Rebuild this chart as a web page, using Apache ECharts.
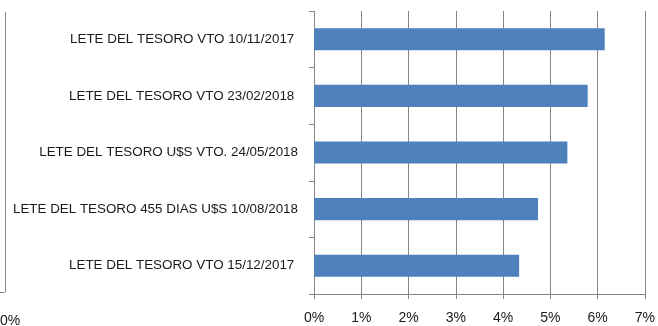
<!DOCTYPE html>
<html>
<head>
<meta charset="utf-8">
<script src="https://cdn.jsdelivr.net/npm/echarts@6/dist/echarts.min.js"></script>
<style>
  html, body { margin: 0; padding: 0; background: #fff; }
  #chart { width: 658px; height: 326px; }
</style>
</head>
<body>
<div id="chart"></div>
<script>
// Instrument names, top to bottom
const categories = [
  'LETE DEL TESORO VTO 10/11/2017 ',
  'LETE DEL TESORO VTO 23/02/2018 ',
  'LETE DEL TESORO U$S VTO. 24/05/2018',
  'LETE DEL TESORO 455 DIAS U$S 10/08/2018',
  'LETE DEL TESORO VTO 15/12/2017 '
];
// Yield, percent
const yields = [6.15, 5.79, 5.36, 4.74, 4.34];
// Percent axis range
const axisMin = 0;
const axisMax = 7;
const axisStep = 1;

const FONT = 'Liberation Sans';
const TEXT = '#1a1a1a';
const GRID = '#868686';

const chart = echarts.init(document.getElementById('chart'));
chart.setOption({
  animation: false,
  backgroundColor: '#ffffff',
  grid: { left: 314, right: 13, top: 11, bottom: 32, containLabel: false },
  xAxis: {
    type: 'value',
    min: axisMin,
    max: axisMax,
    interval: axisStep,
    axisLine: { show: true, lineStyle: { color: GRID, width: 1 } },
    axisTick: { show: true, length: 5, lineStyle: { color: GRID } },
    splitLine: { show: true, lineStyle: { color: GRID, width: 1 } },
    axisLabel: {
      formatter: '{value}%',
      color: TEXT, fontFamily: FONT, fontSize: 14, margin: 17
    }
  },
  yAxis: {
    type: 'category',
    data: categories,
    inverse: true,
    axisLine: { show: true, lineStyle: { color: GRID, width: 1 } },
    axisTick: { show: true, length: 5, lineStyle: { color: GRID } },
    axisLabel: { color: TEXT, fontFamily: FONT, fontSize: 13.4, margin: 16 }
  },
  series: [{
    type: 'bar',
    data: yields,
    barCategoryGap: '61%',
    itemStyle: { color: '#4F81BD' }
  }],
  // edge of a neighbouring chart on the left
  graphic: [
    { type: 'line', shape: { x1: 5.5, y1: 12, x2: 5.5, y2: 292 }, style: { stroke: GRID, lineWidth: 1 } },
    { type: 'line', shape: { x1: 0, y1: 292.5, x2: 5, y2: 292.5 }, style: { stroke: GRID, lineWidth: 1 } },
    { type: 'text', left: 0, top: 314, style: { text: '0%', fill: TEXT, font: '14px "Liberation Sans"' } }
  ]
});
</script>
</body>
</html>
